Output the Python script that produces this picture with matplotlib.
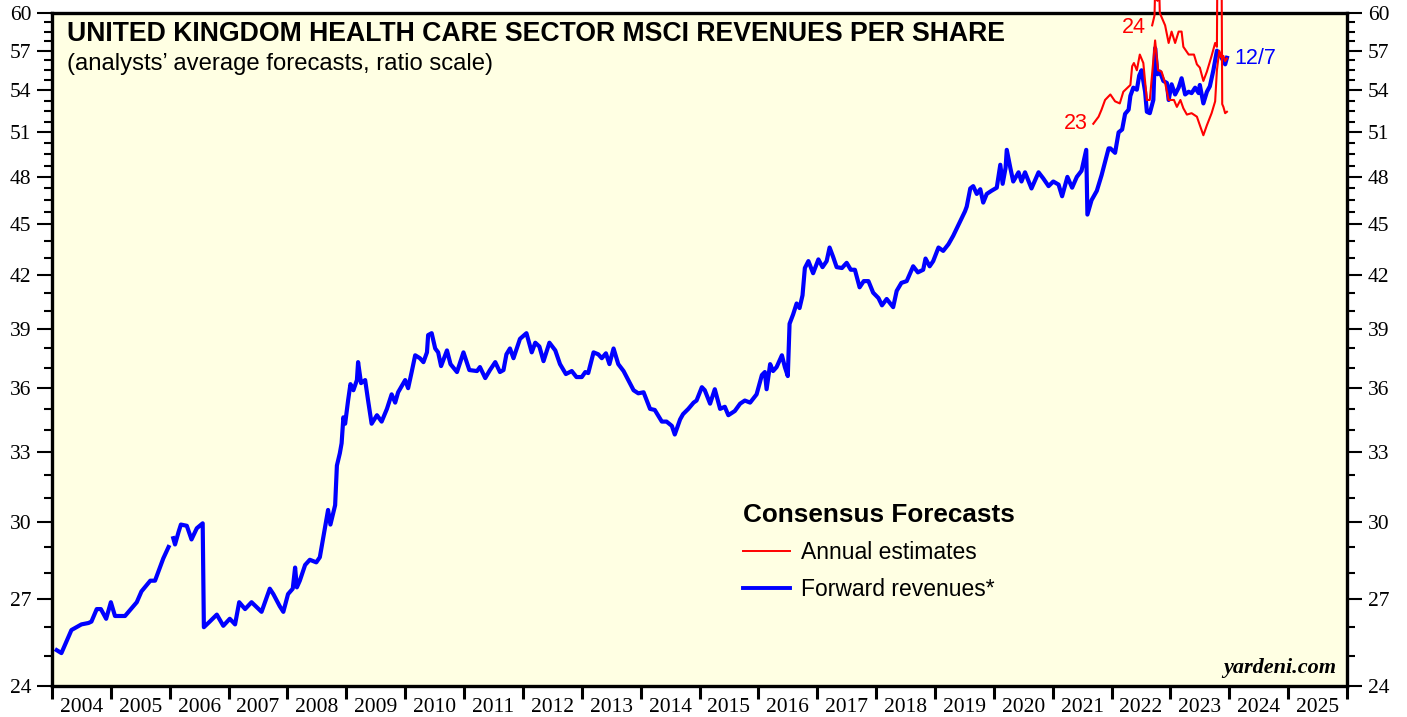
"""UK health care sector MSCI revenues per share (yardeni style)."""
import matplotlib
matplotlib.use("Agg")
import matplotlib.pyplot as plt
from matplotlib.ticker import FixedLocator, NullFormatter
import numpy as np

# forward revenues (decimal year, value)
fwd_t = [2004.08, 2004.16, 2004.33, 2004.50, 2004.62, 2004.67, 2004.76, 2004.83, 2004.92, 2005.00,
         2005.07, 2005.24, 2005.44, 2005.52, 2005.67, 2005.75, 2005.89, 2005.98, 2006.02, 2006.06,
         2006.09, 2006.15, 2006.19, 2006.29, 2006.37, 2006.46, 2006.56, 2006.58, 2006.68, 2006.80,
         2006.91, 2007.02, 2007.11, 2007.18, 2007.28, 2007.39, 2007.56, 2007.70, 2007.76, 2007.87,
         2007.93, 2008.01, 2008.09, 2008.13, 2008.16, 2008.21, 2008.30, 2008.38, 2008.49, 2008.55,
         2008.61, 2008.69, 2008.73, 2008.81, 2008.84, 2008.89, 2008.92, 2008.95, 2008.98, 2009.03,
         2009.07, 2009.12, 2009.18, 2009.20, 2009.25, 2009.32, 2009.37, 2009.43, 2009.52, 2009.60,
         2009.69, 2009.77, 2009.83, 2009.88, 2010.00, 2010.05, 2010.11, 2010.17, 2010.25, 2010.31,
         2010.37, 2010.39, 2010.45, 2010.51, 2010.56, 2010.61, 2010.71, 2010.77, 2010.88, 2010.99,
         2011.09, 2011.22, 2011.27, 2011.36, 2011.44, 2011.53, 2011.61, 2011.67, 2011.72, 2011.78,
         2011.84, 2011.95, 2012.06, 2012.15, 2012.21, 2012.28, 2012.35, 2012.45, 2012.55, 2012.63,
         2012.73, 2012.83, 2012.91, 2013.00, 2013.06, 2013.11, 2013.20, 2013.28, 2013.34, 2013.41,
         2013.47, 2013.54, 2013.62, 2013.71, 2013.79, 2013.88, 2013.96, 2014.05, 2014.16, 2014.24,
         2014.36, 2014.44, 2014.53, 2014.58, 2014.67, 2014.72, 2014.81, 2014.90, 2014.95, 2015.04,
         2015.09, 2015.18, 2015.26, 2015.35, 2015.43, 2015.49, 2015.60, 2015.69, 2015.77, 2015.86,
         2015.97, 2016.06, 2016.11, 2016.14, 2016.20, 2016.25, 2016.31, 2016.40, 2016.45, 2016.50,
         2016.53, 2016.59, 2016.65, 2016.70, 2016.75, 2016.79, 2016.85, 2016.93, 2017.02, 2017.09,
         2017.16, 2017.21, 2017.27, 2017.33, 2017.42, 2017.50, 2017.57, 2017.64, 2017.72, 2017.79,
         2017.87, 2017.95, 2018.04, 2018.10, 2018.18, 2018.29, 2018.35, 2018.43, 2018.52, 2018.63,
         2018.71, 2018.80, 2018.84, 2018.91, 2018.97, 2019.06, 2019.14, 2019.23, 2019.31, 2019.43,
         2019.51, 2019.54, 2019.60, 2019.65, 2019.71, 2019.77, 2019.82, 2019.88, 2019.96, 2020.05,
         2020.11, 2020.15, 2020.20, 2020.22, 2020.28, 2020.33, 2020.42, 2020.47, 2020.53, 2020.64,
         2020.76, 2020.84, 2020.93, 2021.01, 2021.10, 2021.16, 2021.25, 2021.33, 2021.41, 2021.49,
         2021.57, 2021.59, 2021.66, 2021.75, 2021.83, 2021.89, 2021.95, 2021.98, 2022.06, 2022.12,
         2022.18, 2022.23, 2022.29, 2022.32, 2022.37, 2022.43, 2022.47, 2022.51, 2022.57, 2022.60,
         2022.65, 2022.71, 2022.74, 2022.78, 2022.82, 2022.88, 2022.94, 2022.97, 2023.02, 2023.08,
         2023.14, 2023.19, 2023.25, 2023.31, 2023.36, 2023.42, 2023.48, 2023.50, 2023.56, 2023.62,
         2023.67, 2023.73, 2023.79, 2023.84, 2023.90, 2023.93, 2023.96]
fwd_v = [25.2, 25.1, 25.9, 26.1, 26.15, 26.2, 26.65, 26.65, 26.3, 26.9,
         26.4, 26.4, 26.9, 27.3, 27.7, 27.7, 28.55, 29.0, np.nan, 29.35,
         29.1, 29.6, 29.9, 29.85, 29.3, 29.75, 29.95, 26.0, 26.2, 26.45,
         26.05, 26.3, 26.1, 26.9, 26.65, 26.9, 26.55, 27.4, 27.2, 26.75,
         26.55, 27.2, 27.4, 28.2, 27.45, 27.7, 28.3, 28.5, 28.4, 28.6,
         29.4, 30.5, 29.9, 30.7, 32.4, 32.95, 33.4, 34.6, 34.3, 35.4,
         36.2, 35.9, 36.4, 37.3, 36.25, 36.4, 35.4, 34.3, 34.7, 34.4,
         35.0, 35.7, 35.3, 35.8, 36.4, 36.0, 36.8, 37.65, 37.5, 37.3,
         37.8, 38.7, 38.8, 38.0, 37.8, 37.1, 37.9, 37.2, 36.8, 37.8,
         36.9, 36.85, 37.05, 36.5, 36.9, 37.3, 36.8, 36.9, 37.7, 38.0,
         37.5, 38.5, 38.8, 37.8, 38.3, 38.1, 37.35, 38.3, 37.9, 37.2,
         36.7, 36.85, 36.55, 36.55, 36.8, 36.75, 37.8, 37.7, 37.5, 37.75,
         37.2, 38.0, 37.2, 36.85, 36.4, 35.9, 35.75, 35.8, 35.0, 34.95,
         34.4, 34.4, 34.2, 33.8, 34.5, 34.75, 35.0, 35.3, 35.4, 36.05,
         35.9, 35.25, 35.95, 35.0, 35.1, 34.7, 34.9, 35.25, 35.4, 35.3,
         35.7, 36.65, 36.8, 35.95, 37.2, 36.85, 37.05, 37.65, 37.05, 36.6,
         39.3, 39.8, 40.4, 40.15, 40.85, 42.4, 42.8, 42.1, 42.9, 42.45,
         42.8, 43.6, 43.05, 42.45, 42.4, 42.7, 42.3, 42.3, 41.3, 41.65,
         41.65, 41.0, 40.7, 40.3, 40.65, 40.2, 41.1, 41.55, 41.65, 42.5,
         42.15, 42.3, 42.95, 42.5, 42.8, 43.6, 43.4, 43.8, 44.3, 45.2,
         45.8, 46.1, 47.25, 47.4, 46.9, 47.2, 46.35, 46.9, 47.1, 47.3,
         48.8, 47.55, 48.6, 49.8, 48.6, 47.7, 48.3, 47.7, 48.3, 47.25,
         48.3, 47.9, 47.4, 47.7, 47.5, 46.75, 48.0, 47.3, 48.0, 48.4,
         49.8, 45.6, 46.5, 47.1, 48.1, 49.0, 49.9, 49.9, 49.6, 51.0,
         51.2, 52.3, 52.6, 53.6, 54.2, 54.05, 55.1, 55.5, 53.9, 52.45,
         52.35, 53.3, 57.2, 55.2, 55.4, 54.7, 54.55, 53.3, 54.45, 53.7,
         54.2, 54.9, 53.7, 53.9, 53.8, 54.2, 53.8, 54.4, 53.05, 53.9,
         54.3, 55.5, 57.0, 56.7, 56.2, 55.95, 56.45]

# annual estimate for 2023
a23_t = [2021.69, 2021.78, 2021.83, 2021.89, 2021.98, 2022.06, 2022.14, 2022.20, 2022.26, 2022.32,
         2022.35, 2022.38, 2022.43, 2022.48, 2022.54, 2022.60, 2022.65, 2022.74, 2022.79, 2022.85,
         2022.91, 2022.97, 2023.06, 2023.11, 2023.17, 2023.22, 2023.28, 2023.36, 2023.45, 2023.50,
         2023.56, 2023.62, 2023.70, 2023.76, 2023.79, 2023.83, 2023.86, 2023.90, 2023.93, 2023.96]
a23_v = [51.6, 52.1, 52.6, 53.3, 53.7, 53.2, 53.05, 53.9, 54.15, 54.4,
         55.8, 56.05, 55.5, 56.7, 56.05, 53.3, 53.3, 57.8, 55.5, 55.4,
         54.55, 53.3, 53.3, 52.8, 53.3, 52.7, 52.25, 52.35, 52.1, 51.5,
         50.8, 51.5, 52.35, 53.2, 55.5, 57.0, 56.5, 56.6, 56.2, 56.4]

# annual estimate for 2024
a24_t = [2022.69, 2022.73, 2022.75, 2022.78, 2022.80, 2022.82, 2022.91, 2022.97, 2023.02, 2023.08,
         2023.14, 2023.19, 2023.22, 2023.31, 2023.40, 2023.45, 2023.50, 2023.56, 2023.62, 2023.70,
         2023.76, 2023.79, 2023.81, 2023.86, 2023.88, 2023.90, 2023.93, 2023.96]
a24_v = [59.0, 59.8, 64.0, 61.0, 64.0, 60.0, 59.0, 57.6, 58.5, 57.6,
         58.5, 58.5, 57.3, 56.7, 56.7, 55.95, 55.7, 54.7, 55.4, 56.6,
         57.6, 57.3, 75.0, 75.0, 53.0, 52.8, 52.35, 52.45]

years = list(range(2004, 2026))
y_major = [24, 27, 30, 33, 36, 39, 42, 45, 48, 51, 54, 57, 60]

RED = "#FF0000"
BLUE = "#0000FF"
SANS = ["Liberation Sans", "DejaVu Sans"]
SERIF = ["Liberation Serif", "DejaVu Serif"]


def main():
    fig = plt.figure(figsize=(14.07, 7.17), dpi=100)
    ax = fig.add_axes([52 / 1407, 31 / 717, 1295 / 1407, 673 / 717])
    ax.set_facecolor("#FFFFE3")

    ax.plot(a23_t, a23_v, color=RED, lw=1.5, clip_on=False, zorder=3)
    ax.plot(a24_t, a24_v, color=RED, lw=1.5, clip_on=False, zorder=3)
    ax.plot(fwd_t, fwd_v, color=BLUE, lw=3.0, zorder=2)

    ax.set_yscale("log")
    ax.set_ylim(24, 60)
    ax.set_xlim(2004, 2026)

    # y ticks on both sides
    minors = [v for v in range(25, 45) if v not in y_major] + \
             [v for v in np.arange(45, 60, 0.75) if round(v, 2) not in y_major]
    ax.yaxis.set_major_locator(FixedLocator(y_major))
    ax.yaxis.set_minor_locator(FixedLocator(minors))
    ax.yaxis.set_major_formatter(plt.FuncFormatter(lambda v, p: f"{v:.0f}"))
    ax.yaxis.set_minor_formatter(NullFormatter())
    ax.tick_params(axis="y", which="both", left=True, right=True, labelleft=True,
                   labelright=True, direction="out", width=1.5, color="black")
    ax.tick_params(axis="y", which="major", length=11, pad=4, labelsize=15.5)
    ax.tick_params(axis="y", which="minor", length=6)

    # x: ticks at year boundaries, labels mid-year
    ax.xaxis.set_major_locator(FixedLocator(years + [2026]))
    ax.xaxis.set_major_formatter(NullFormatter())
    ax.xaxis.set_minor_locator(FixedLocator([y + 0.5 for y in years]))
    ax.xaxis.set_minor_formatter(plt.FuncFormatter(lambda v, p: f"{int(v)}"))
    ax.tick_params(axis="x", which="major", length=9, width=2.2, direction="out")
    ax.tick_params(axis="x", which="minor", length=0, pad=9, labelsize=15.5)

    for lab in ax.get_xticklabels(minor=True) + ax.yaxis.get_majorticklabels():
        lab.set_family(SERIF)
    for sp in ax.spines.values():
        sp.set_linewidth(2.4)

    # titles
    ax.text(0.0116, 0.958, "UNITED KINGDOM HEALTH CARE SECTOR MSCI REVENUES PER SHARE",
            transform=ax.transAxes, fontsize=19.2, fontweight="bold", family=SANS,
            va="baseline", ha="left")
    ax.text(0.0116, 0.915, "(analysts\u2019 average forecasts, ratio scale)",
            transform=ax.transAxes, fontsize=17.2, family=SANS, va="baseline", ha="left")

    # series labels
    ax.text(a23_t[0] - 0.1, a23_v[0], "23", color=RED, fontsize=15.5, family=SANS,
            ha="right", va="center")
    ax.text(a24_t[0] - 0.1, 58.8, "24", color=RED, fontsize=15.5, family=SANS,
            ha="right", va="center")
    ax.text(fwd_t[-1] + 0.12, 56.4, "12/7", color=BLUE, fontsize=15.5, family=SANS,
            ha="left", va="center")

    ax.text(0.992, 0.012, "yardeni.com", transform=ax.transAxes, fontsize=16,
            fontweight="bold", style="italic", family=SERIF, ha="right", va="bottom")

    # legend
    h1, = ax.plot([], [], color=RED, lw=1.4)
    h2, = ax.plot([], [], color=BLUE, lw=2.8)
    ax.legend([h1, h2], ["Annual estimates", "Forward revenues*"],
              loc="upper left", bbox_to_anchor=(0.518, 0.303), frameon=False,
              title="Consensus Forecasts", alignment="left",
              prop={"family": SANS, "size": 16.5},
              title_fontproperties={"family": SANS, "size": 18.8, "weight": "bold"},
              handlelength=2.05, handletextpad=0.45, labelspacing=0.62)

    fig.savefig("out.png", dpi=100, facecolor="white")


if __name__ == "__main__":
    main()
